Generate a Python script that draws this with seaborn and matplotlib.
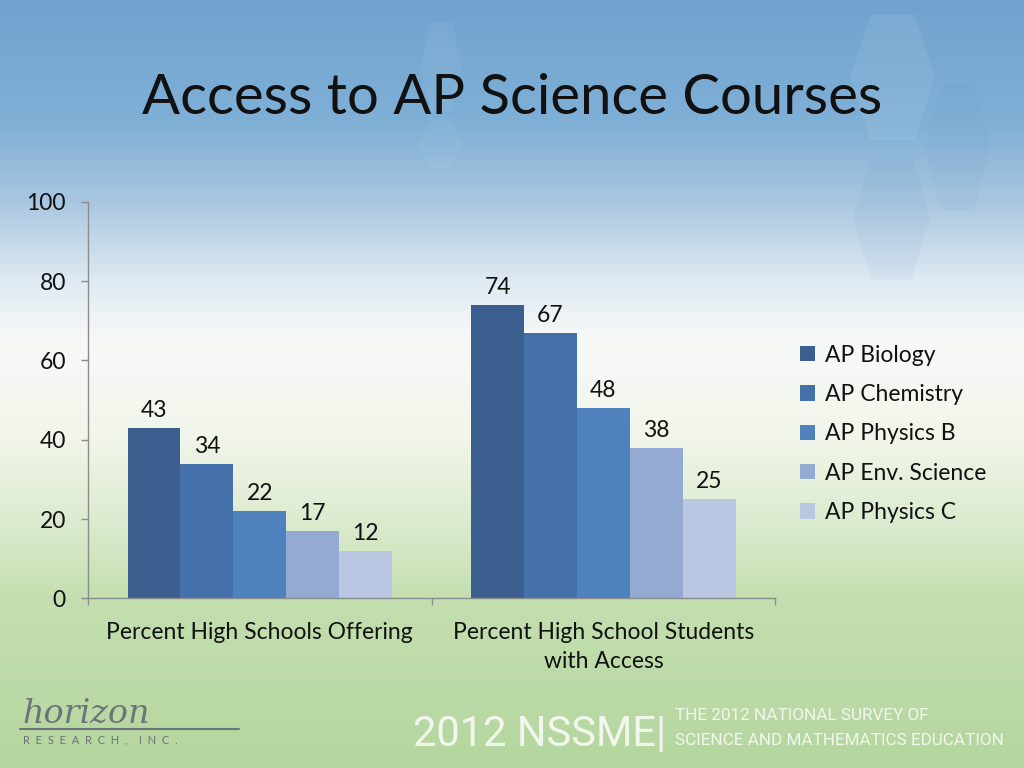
import numpy as np
import pandas as pd
import matplotlib
matplotlib.use("Agg")
import matplotlib.pyplot as plt
from matplotlib.colors import LinearSegmentedColormap
from matplotlib.patches import Polygon
import seaborn as sns

# data
groups = ["Percent High Schools Offering", "Percent High School Students\nwith Access"]
courses = ["AP Biology", "AP Chemistry", "AP Physics B", "AP Env. Science", "AP Physics C"]
offering = [43, 34, 22, 17, 12]
access = [74, 67, 48, 38, 25]
palette = ["#3b5f8e", "#4471a9", "#4f81bd", "#94aad2", "#bac7e2"]

df = pd.DataFrame({
    "group": [groups[0]] * len(courses) + [groups[1]] * len(courses),
    "course": courses + courses,
    "value": offering + access,
})

sns.set_theme(style="white")
plt.rcParams["font.family"] = ["Lato", "DejaVu Sans"]

fig = plt.figure(figsize=(10.24, 7.68), dpi=100)

# slide background: sky blue fading to white then green (pixel coords)
bg = fig.add_axes([0, 0, 1, 1], zorder=0)
bg_cmap = LinearSegmentedColormap.from_list("slide", [
    (0.0, "#b5d69f"), (0.22, "#c4dfb0"), (0.32, "#dcebcf"), (0.43, "#f1f6ea"),
    (0.56, "#f7f9f8"), (0.635, "#dfeaf3"), (0.74, "#a9c6e0"), (0.84, "#80b0d6"),
    (1.0, "#70a3cf")])
bg.imshow(np.linspace(1, 0, 256).reshape(-1, 1), aspect="auto", cmap=bg_cmap,
          extent=[0, 1024, 768, 0], vmin=0, vmax=1)
bg.set_xlim(0, 1024)
bg.set_ylim(768, 0)


def hexagon(x0, x1, y0, y1, color, alpha):
    dx = (x1 - x0) * 0.24
    ym = (y0 + y1) / 2
    pts = [(x0 + dx, y0), (x1 - dx, y0), (x1, ym), (x1 - dx, y1), (x0 + dx, y1), (x0, ym)]
    bg.add_patch(Polygon(pts, closed=True, facecolor=color, edgecolor="none", alpha=alpha))


# faint hexagon decorations
hexagon(850, 935, 15, 140, "white", 0.07)
hexagon(853, 930, 155, 280, "#5f8fb8", 0.07)
hexagon(925, 990, 85, 210, "#5f8fb8", 0.06)
hexagon(420, 462, 22, 110, "white", 0.05)
hexagon(420, 462, 118, 168, "white", 0.04)
bg.set_axis_off()

ax = fig.add_axes([0.086, 0.221, 0.671, 0.516], zorder=1)
ax.patch.set_alpha(0)
sns.barplot(data=df, x="group", y="value", hue="course", palette=palette,
            width=0.77, saturation=1, ax=ax, legend=True, linewidth=0)

for cont in ax.containers:
    ax.bar_label(cont, padding=5, fontsize=16.5, color="#111111")

ax.set_ylim(0, 100)
ax.set_yticks(range(0, 101, 20))
ax.set_xlim(-0.5, 1.5)
ax.set_xlabel("")
ax.set_ylabel("")
ax.tick_params(axis="y", labelsize=16.5, labelcolor="#111111", length=5, width=1,
               color="#8c8c8c", left=True, direction="out", pad=11)
ax.tick_params(axis="x", labelsize=16.5, labelcolor="#111111", length=0, pad=17)
for lab in ax.get_xticklabels():
    lab.set_linespacing(1.5)
ax.set_xticks([-0.5, 0.5, 1.5], minor=True)
ax.tick_params(axis="x", which="minor", bottom=True, length=5, width=1,
               color="#8c8c8c", direction="out")
for side in ["top", "right"]:
    ax.spines[side].set_visible(False)
for side in ["left", "bottom"]:
    ax.spines[side].set_color("#8c8c8c")
    ax.spines[side].set_linewidth(1)

leg = ax.legend(loc="upper left", bbox_to_anchor=(0.781, 0.551),
                bbox_transform=fig.transFigure, frameon=False, borderpad=0,
                borderaxespad=0, fontsize=16.5, handlelength=0.65, handleheight=0.65,
                handletextpad=0.45, labelspacing=0.8)
for t in leg.get_texts():
    t.set_color("#111111")

fig.text(0.5, 0.872, "Access to AP Science Courses", ha="center", va="center",
         fontsize=40.5, color="#111111")

# footer
fig.text(0.022, 0.070, "horizon", fontsize=24, style="italic", color="#6b7478",
         family=["DejaVu Serif"], va="center")
fig.add_artist(plt.Line2D([0.02, 0.233], [0.051, 0.051], color="#6b7478", lw=1.5))
fig.text(0.022, 0.036, "R  E  S  E  A  R  C  H  ,    I  N  C  .", fontsize=8,
         color="#6b7478", va="center")
fig.text(0.403, 0.043, "2012 NSSME|", fontsize=30, color="#f2f7ee", va="center",
         family=["Roboto", "DejaVu Sans"])
fig.text(0.659, 0.068, "THE 2012 NATIONAL SURVEY OF", fontsize=12.3, color="#f2f7ee",
         va="center", family=["Roboto", "DejaVu Sans"])
fig.text(0.659, 0.036, "SCIENCE AND MATHEMATICS EDUCATION", fontsize=12.3, color="#f2f7ee",
         va="center", family=["Roboto", "DejaVu Sans"])

fig.savefig("out.png", dpi=100)
